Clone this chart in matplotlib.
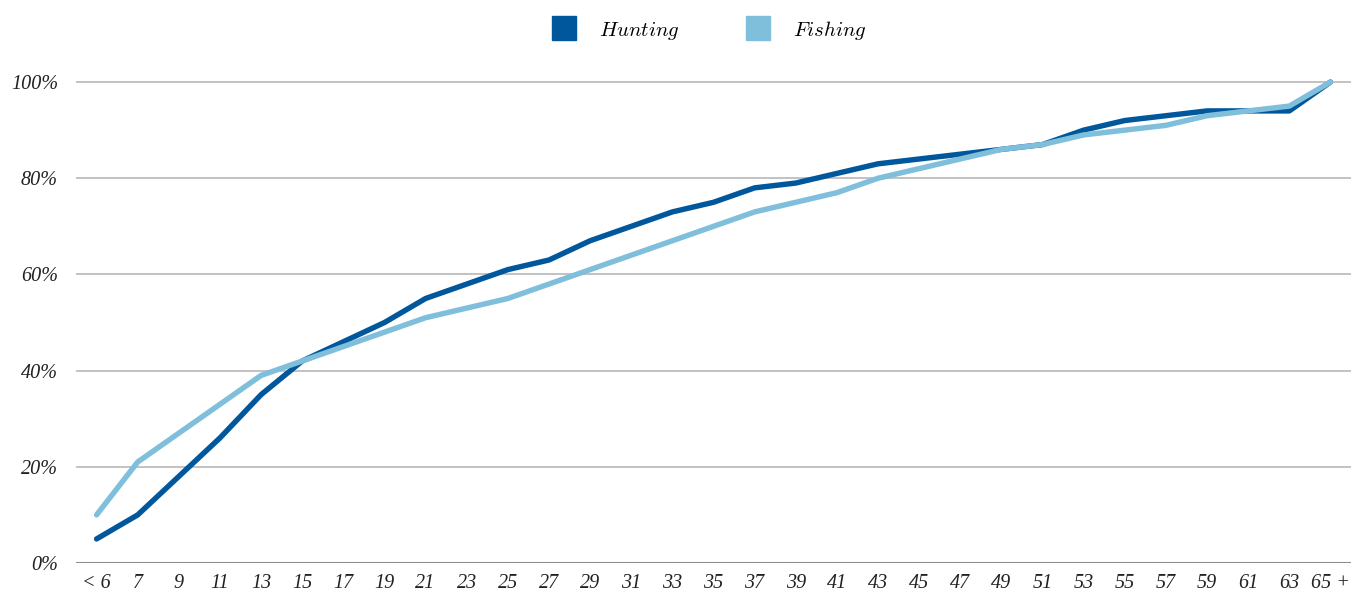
import matplotlib
matplotlib.use("Agg")
import matplotlib.pyplot as plt
from matplotlib.lines import Line2D

plt.rcParams["mathtext.fontset"] = "cm"

ages = ["< 6"] + [str(a) for a in range(7, 64, 2)] + ["65 +"]
hunting = [5, 10, 18, 26, 35, 42, 46, 50, 55, 58, 61, 63, 67, 70, 73, 75,
           78, 79, 81, 83, 84, 85, 86, 87, 90, 92, 93, 94, 94, 94, 100]
fishing = [10, 21, 27, 33, 39, 42, 45, 48, 51, 53, 55, 58, 61, 64, 67, 70,
           73, 75, 77, 80, 82, 84, 86, 87, 89, 90, 91, 93, 94, 95, 100]
y_ticks = [0, 20, 40, 60, 80, 100]

HUNT_COLOR = "#01579b"
FISH_COLOR = "#7fbfdc"
TICK_FONT = {"family": "Liberation Serif", "style": "italic", "size": 14.5}

fig = plt.figure(figsize=(13.51, 5.93), dpi=100)
ax = fig.add_axes([76 / 1351, 30 / 593, 1 - 76 / 1351, 505 / 593])

x = list(range(len(ages)))
ax.plot(x, hunting, color=HUNT_COLOR, linewidth=3.9, solid_capstyle="round",
        solid_joinstyle="round", zorder=3)
ax.plot(x, fishing, color=FISH_COLOR, linewidth=3.9, solid_capstyle="round",
        solid_joinstyle="round", zorder=4)

ax.set_xlim(-0.5, len(ages) - 0.5)
ax.set_ylim(0, 105)
ax.set_yticks(y_ticks)
ax.set_yticklabels([f"{v}%" for v in y_ticks], fontdict=TICK_FONT)
ax.set_xticks(x)
ax.set_xticklabels(ages, fontdict=TICK_FONT)
ax.tick_params(axis="both", length=0, colors="#222222")
ax.tick_params(axis="y", pad=13)
ax.tick_params(axis="x", pad=8)

for v in y_ticks[1:]:
    ax.axhline(v, color="#bdbdbd", linewidth=1.3, zorder=1)
ax.axhline(0, color="#8c8c8c", linewidth=2.2, zorder=2)

for spine in ax.spines.values():
    spine.set_visible(False)

handles = [
    Line2D([], [], linestyle="none", marker="s", markersize=17,
           markerfacecolor=HUNT_COLOR, markeredgecolor=HUNT_COLOR),
    Line2D([], [], linestyle="none", marker="s", markersize=17,
           markerfacecolor=FISH_COLOR, markeredgecolor=FISH_COLOR),
]
fig.legend(handles, [r"$\mathit{Hunting}$", r"$\mathit{Fishing}$"],
           loc="upper center", bbox_to_anchor=(0.525, 1.0), ncol=2,
           frameon=False, fontsize=15, handlelength=1.15,
           handletextpad=1.1, columnspacing=3.2)

fig.savefig("out.png", dpi=100)
